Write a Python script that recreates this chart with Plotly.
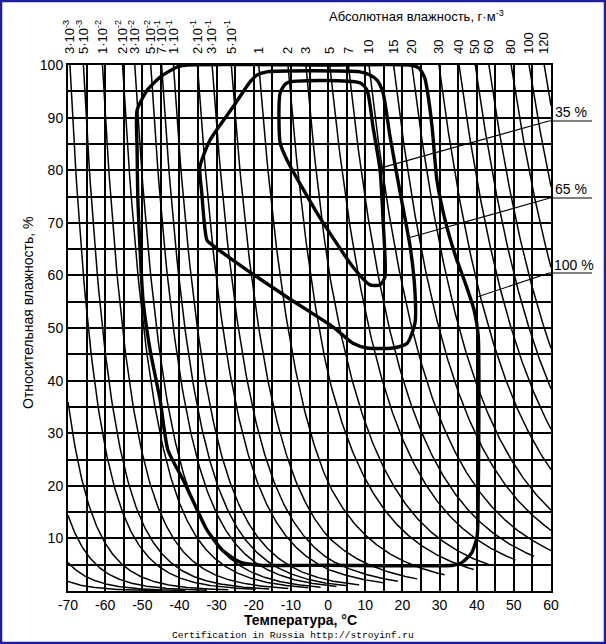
import numpy as np
import plotly.graph_objects as go

# ---------------- data ----------------
temp_ticks = list(range(-70, 61, 10))          # bottom axis, deg C
rh_ticks = list(range(10, 101, 10))            # left axis, %

abs_hum_values = [0.003, 0.005, 0.01, 0.02, 0.03, 0.05, 0.07, 0.1, 0.2, 0.3, 0.5,
                  1, 2, 3, 5, 7, 10, 15, 20, 30, 40, 50, 60, 80, 100, 120]
abs_hum_labels = ["3·10<sup>-3</sup>", "5·10<sup>-3</sup>", "1·10<sup>-2</sup>", "2·10<sup>-2</sup>",
                  "3·10<sup>-2</sup>", "5·10<sup>-2</sup>", "7·10<sup>-1</sup>", "1·10<sup>-1</sup>",
                  "2·10<sup>-1</sup>", "3·10<sup>-1</sup>", "5·10<sup>-1</sup>",
                  "1", "2", "3", "5", "7", "10", "15", "20", "30", "40", "50", "60", "80", "100", "120"]
extra_iso_values = [0.001, 0.0004, 0.00015, 0.00005]   # unlabeled isolines entering from the left

# climate envelopes (temperature, relative humidity)
outer_t = [-51.4, -48.7, -45.2, -40.7, -38.0, 0.0, 22.0, 24.5, 26.0, 26.8, 28.0, 29.3, 31.5, 34.2, 37.1,
           39.3, 40.4, 40.4, 40.1, 38.6, 36.0, 33.6, 0.0, -18.3, -23.7, -28.5, -32.6, -35.8, -39.0,
           -43.1, -45.2, -47.9, -49.8, -50.6, -51.2, -51.4, -51.4]
outer_rh = [91.4, 95.2, 97.7, 99.6, 100.0, 100.0, 100.0, 99.4, 97.6, 94.7, 88.2, 78.1, 70.5, 63.9, 58.2,
            53.4, 48.7, 17.3, 10.3, 7.2, 5.4, 4.9, 4.9, 4.9, 5.5, 7.8, 11.6, 16.3, 21.1,
            26.8, 36.3, 45.8, 55.3, 64.8, 74.4, 83.8, 91.4]

middle_t = [-19.1, -16.4, 8.6, 11.3, 13.2, 14.8, 16.7, 19.4, 22.1, 23.4, 23.4, 21.3, 17.5, 10.5, 6.7,
            1.3, -11.1, -21.8, -31.2, -32.6, -34.0, -34.5, -31.8, -25.6, -21.0, -19.1]
middle_rh = [98.1, 98.7, 98.7, 98.1, 97.1, 94.7, 86.3, 75.7, 65.4, 56.7, 51.0, 47.1, 46.2, 46.2, 47.1,
             50.2, 55.9, 61.0, 65.8, 66.7, 75.7, 80.6, 85.7, 92.0, 96.8, 98.1]

inner_t = [-11.1, 8.6, 10.5, 12.1, 14.0, 14.8, 15.3, 14.0, 11.3, 6.7, -3.0, -11.1, -12.9, -12.9, -11.1]
inner_rh = [96.6, 96.6, 95.2, 88.2, 80.0, 70.5, 59.7, 58.2, 58.2, 61.6, 71.9, 82.0, 85.2, 94.7, 96.6]

# leader lines: point on envelope -> right edge
leader_labels = ["35 %", "65 %", "100 %"]
leader_from_t = [14.0, 21.5, 40.1]
leader_from_rh = [80.4, 67.1, 55.9]
leader_to_t = [59.7, 59.7, 59.7]
leader_to_rh = [89.4, 74.7, 60.5]

# ---------------- helpers ----------------
def ah_sat(t):
    t = np.asarray(t, dtype=float)
    e = np.where(t < 0, 6.112 * np.exp(22.46 * t / (272.62 + t)),
                 6.112 * np.exp(17.62 * t / (243.12 + t)))
    return 216.7 * e / (t + 273.15)

def t_of_ah(a):
    lo, hi = -110.0, 90.0
    for _ in range(80):
        mid = 0.5 * (lo + hi)
        if ah_sat(mid) < a:
            lo = mid
        else:
            hi = mid
    return 0.5 * (lo + hi)

# plot area in pixels
L, R, T, B = 68, 55, 65, 53
W, H = 606, 644
pw, ph = W - L - R, H - T - B

def px(xpix):
    return (xpix - L) / pw

def py(ypix):
    return (H - B - ypix) / ph

fig = go.Figure()

# isolines of absolute humidity
iso_x, iso_y = [], []
for a in extra_iso_values + abs_hum_values:
    t0 = t_of_ah(a)
    t_end = min(t0 + 50.0, 60.0)
    ts = np.linspace(max(t0, -70.0), t_end, 160)
    rh = 100.0 * a / ah_sat(ts)
    iso_x += list(ts) + [None]
    iso_y += list(rh) + [None]
fig.add_trace(go.Scatter(x=iso_x, y=iso_y, mode="lines", line=dict(color="black", width=1.5),
                         hoverinfo="skip", showlegend=False))

for xs, ys in [(outer_t, outer_rh), (middle_t, middle_rh), (inner_t, inner_rh)]:
    fig.add_trace(go.Scatter(x=xs, y=ys, mode="lines",
                             line=dict(color="black", width=3.4, shape="spline", smoothing=0.6),
                             hoverinfo="skip", showlegend=False))

for i in range(3):
    fig.add_trace(go.Scatter(x=[leader_from_t[i], leader_to_t[i]], y=[leader_from_rh[i], leader_to_rh[i]],
                             mode="lines", line=dict(color="black", width=1.1),
                             hoverinfo="skip", showlegend=False))

# dummy trace for top axis
top_pos = [t_of_ah(a) for a in abs_hum_values]
fig.add_trace(go.Scatter(x=[-70], y=[0], xaxis="x2", mode="markers", marker=dict(opacity=0),
                         hoverinfo="skip", showlegend=False))

shapes = []
label_y_pix = [121, 198, 273]
for i in range(3):
    shapes.append(dict(type="line", xref="paper", yref="paper", x0=px(550), x1=px(592),
                       y0=py(label_y_pix[i]), y1=py(label_y_pix[i]), line=dict(color="black", width=1.1)))
# blue frame around the picture
shapes.append(dict(type="rect", xref="paper", yref="paper", x0=px(1), x1=px(W - 1), y0=py(H - 1), y1=py(1),
                   line=dict(color="#1e1ea0", width=2.5), fillcolor="rgba(0,0,0,0)", layer="above"))

def ann(text, xpix, ypix, size, family="Liberation Sans", angle=0):
    return dict(text=text, xref="paper", yref="paper", x=px(xpix), y=py(ypix), showarrow=False,
                xanchor="center", yanchor="middle", textangle=angle,
                font=dict(size=size, color="black", family=family))

annotations = []
label_center = [(571, 112), (571, 189), (574, 265)]
for i in range(3):
    annotations.append(ann(leader_labels[i], label_center[i][0], label_center[i][1], 14))
annotations.append(ann("Абсолютная влажность, г·м<sup>-3</sup>", 416, 16, 13))
annotations.append(ann("Относительная влажность, %", 28, 313, 14, angle=-90))
annotations.append(ann("<b>Температура, °C</b>", 300, 620, 14))
annotations.append(ann("Certification in Russia http://stroyinf.ru", 293, 635, 9.6, family="Liberation Mono"))

xt = list(range(-70, 61, 5))
yt = list(range(0, 101, 5))
fig.update_layout(
    width=W, height=H, margin=dict(l=L, r=R, t=T, b=B),
    paper_bgcolor="white", plot_bgcolor="white",
    xaxis=dict(range=[-70, 60], tickmode="array", tickvals=xt,
               ticktext=[str(v) if v in temp_ticks else "" for v in xt],
               showgrid=True, gridcolor="black", gridwidth=1.5, zeroline=False,
               showline=True, mirror=True, linecolor="black", linewidth=2, ticks="",
               tickfont=dict(size=14, color="black", family="Liberation Sans")),
    xaxis2=dict(range=[-70, 60], overlaying="x", side="top", tickmode="array", tickvals=top_pos,
                ticktext=abs_hum_labels, tickangle=-90, showgrid=False, zeroline=False,
                showline=False, ticks="", ticklabelstandoff=10,
                tickfont=dict(size=13, color="black", family="Liberation Sans")),
    yaxis=dict(range=[0, 100], tickmode="array", tickvals=yt,
               ticktext=[str(v) if v in rh_ticks else "" for v in yt],
               showgrid=True, gridcolor="black", gridwidth=1.5, zeroline=False,
               showline=True, mirror=True, linecolor="black", linewidth=2, ticks="",
               tickfont=dict(size=14, color="black", family="Liberation Sans")),
    shapes=shapes, annotations=annotations,
)

fig.write_html("out.html", config={"displayModeBar": False},
               post_script="document.body.style.margin='0';")
